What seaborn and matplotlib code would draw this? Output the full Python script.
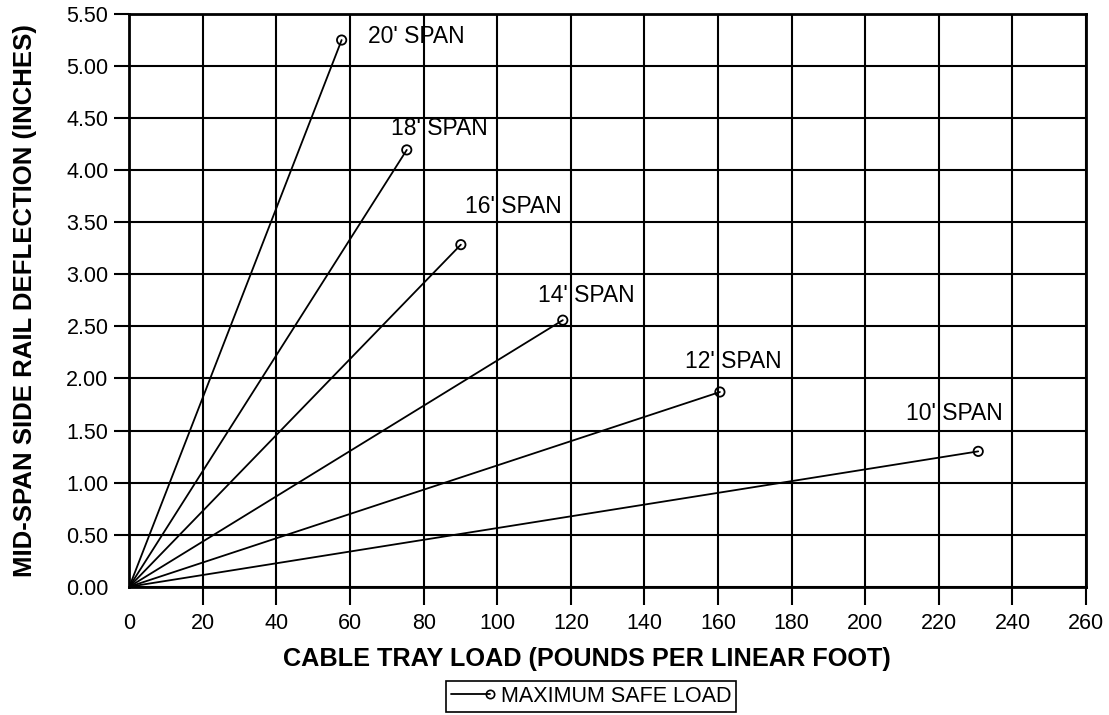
import numpy as np
import pandas as pd
import matplotlib
matplotlib.use("Agg")
import matplotlib.pyplot as plt
from matplotlib.lines import Line2D
from matplotlib.legend_handler import HandlerLine2D
import seaborn as sns

# ---- data ----
spans = ["20' SPAN", "18' SPAN", "16' SPAN", "14' SPAN", "12' SPAN", "10' SPAN"]
max_load = [57.7, 75.4, 90.1, 117.8, 160.5, 230.7]          # lbs per linear foot
deflection = [5.25, 4.195, 3.285, 2.56, 1.87, 1.30]          # inches
x_ticks = list(range(0, 261, 20))
y_ticks = [0.0, 0.5, 1.0, 1.5, 2.0, 2.5, 3.0, 3.5, 4.0, 4.5, 5.0, 5.5]

# label offsets (pixels) relative to end points
label_offsets = [(26, 4), (-16, 21), (4, 38), (-25, 25), (-35, 31), (-72, 38)]

sns.set_theme(style="white")
plt.rcParams['font.family'] = ['Liberation Sans', 'DejaVu Sans']
plt.rcParams['text.color'] = 'black'
plt.rcParams['axes.labelcolor'] = 'black'
plt.rcParams['xtick.color'] = 'black'
plt.rcParams['ytick.color'] = 'black'

fig = plt.figure(figsize=(11.09, 7.15), dpi=100)
ax = fig.add_axes([0.1166, 0.1794, 0.9793 - 0.1166, 0.9804 - 0.1794])

rows = []
for s, xv, yv in zip(spans, max_load, deflection):
    rows.append({"span": s, "load": 0.0, "defl": 0.0})
    rows.append({"span": s, "load": xv, "defl": yv})
df = pd.DataFrame(rows)
ends = pd.DataFrame({"span": spans, "load": max_load, "defl": deflection})

sns.lineplot(data=df, x="load", y="defl", units="span", estimator=None,
             color="black", linewidth=1.3, ax=ax, zorder=3, sort=False)
sns.scatterplot(data=ends, x="load", y="defl", marker="o", s=45,
                facecolor="none", edgecolor="black", linewidth=1.3, ax=ax, zorder=4)

for s, xv, yv, (dx, dy) in zip(spans, max_load, deflection, label_offsets):
    ax.annotate(s, (xv, yv), xytext=(dx, dy), textcoords="offset pixels",
                ha="left", va="center", fontsize=16.5, color="black")

ax.set_xlim(0, 260)
ax.set_ylim(0, 5.5)
ax.set_xticks(x_ticks)
ax.set_yticks(y_ticks)
ax.set_yticklabels([f"{v:.2f}" for v in y_ticks])
ax.grid(True, color="black", linewidth=1.5)
ax.set_axisbelow(True)
for sp in ax.spines.values():
    sp.set_color("black")
    sp.set_linewidth(2.0)

ax.tick_params(axis="x", length=13, width=1.5, color="black", pad=6, labelsize=15.5,
               labelcolor="black", bottom=True)
ax.tick_params(axis="y", length=11, width=1.5, color="black", pad=4, labelsize=15.5,
               labelcolor="black", left=True)
ax.xaxis.get_major_ticks()[0].tick1line.set_visible(False)
ax.yaxis.get_major_ticks()[0].tick1line.set_visible(False)

ax.set_xlabel("CABLE TRAY LOAD (POUNDS PER LINEAR FOOT)", fontsize=18.2,
              fontweight="bold", color="black")
ax.set_ylabel("MID-SPAN SIDE RAIL DEFLECTION (INCHES)", fontsize=18.5,
              fontweight="bold", color="black")
ax.yaxis.set_label_coords(-0.0964, 0.5)
ax.xaxis.set_label_coords(0.478, -0.105)


class RightMarkerHandler(HandlerLine2D):
    def create_artists(self, legend, orig_handle, xdescent, ydescent,
                       width, height, fontsize, trans):
        arts = super().create_artists(legend, orig_handle, xdescent, ydescent,
                                      width, height, fontsize, trans)
        for a in arts:
            xd = a.get_xdata()
            if len(xd) >= 2:
                a.set_markevery([len(xd) - 1])
        return arts


handle = Line2D([], [], color="black", linewidth=1.3, marker="o", markersize=6,
                markerfacecolor="none", markeredgecolor="black", markeredgewidth=1.2)
leg = fig.legend([handle], ["MAXIMUM SAFE LOAD"], loc="center",
                 bbox_to_anchor=(0.533, 0.026), fontsize=15.5, frameon=True,
                 fancybox=False, edgecolor="black", handlelength=1.8,
                 handletextpad=0.5, borderpad=0.25, labelcolor="black",
                 handler_map={Line2D: RightMarkerHandler(numpoints=1)})
leg.get_frame().set_linewidth(1.2)
leg.get_frame().set_alpha(1)

fig.savefig("out.png", dpi=100)
